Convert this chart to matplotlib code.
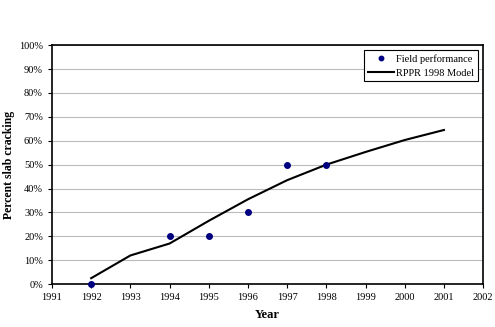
import matplotlib
matplotlib.use("Agg")
import matplotlib.pyplot as plt
from matplotlib.ticker import PercentFormatter

# data
field_years = [1992, 1994, 1995, 1996, 1997, 1998]
field_cracking = [0.0, 0.20, 0.20, 0.30, 0.50, 0.50]

model_years = [1992, 1993, 1994, 1995, 1996, 1997, 1998, 1999, 2000, 2001]
model_cracking = [0.025, 0.12, 0.17, 0.265, 0.355, 0.435, 0.50, 0.553, 0.603, 0.645]

plt.rcParams["font.family"] = ["Liberation Serif", "DejaVu Serif"]

fig = plt.figure(figsize=(4.95, 3.27), dpi=100)
ax = fig.add_axes([0.105, 0.131, 0.871, 0.731])

ax.plot(field_years, field_cracking, "o", color="#000080", markersize=4,
        label="Field performance", clip_on=False, zorder=3)
ax.plot(model_years, model_cracking, "-", color="black", linewidth=1.5,
        label="RPPR 1998 Model", zorder=2)

ax.set_xlim(1991, 2002)
ax.set_ylim(0, 1)
ax.set_xticks(range(1991, 2003))
ax.set_yticks([i / 10 for i in range(11)])
ax.yaxis.set_major_formatter(PercentFormatter(1.0, decimals=0))
ax.tick_params(labelsize=7.5, length=3, width=0.8, direction="out")
ax.grid(axis="y", color="#bbbbbb", linewidth=0.8)
ax.set_axisbelow(True)
for s in ax.spines.values():
    s.set_linewidth(1.2)
    s.set_color("black")

ax.set_xlabel("Year", fontsize=9, fontweight="bold", labelpad=5)
ax.set_ylabel("Percent slab cracking", fontsize=8.5, fontweight="bold")
ax.yaxis.set_label_coords(-0.086, 0.5)

leg = ax.legend(loc="upper right", fontsize=7.5, frameon=True, fancybox=False,
                edgecolor="black", framealpha=1, borderaxespad=0.5,
                borderpad=0.35, markerscale=0.8,
                handlelength=2.5, handletextpad=0.2, labelspacing=0.45)
leg.get_frame().set_linewidth(0.8)

fig.savefig("out.png", dpi=100)
